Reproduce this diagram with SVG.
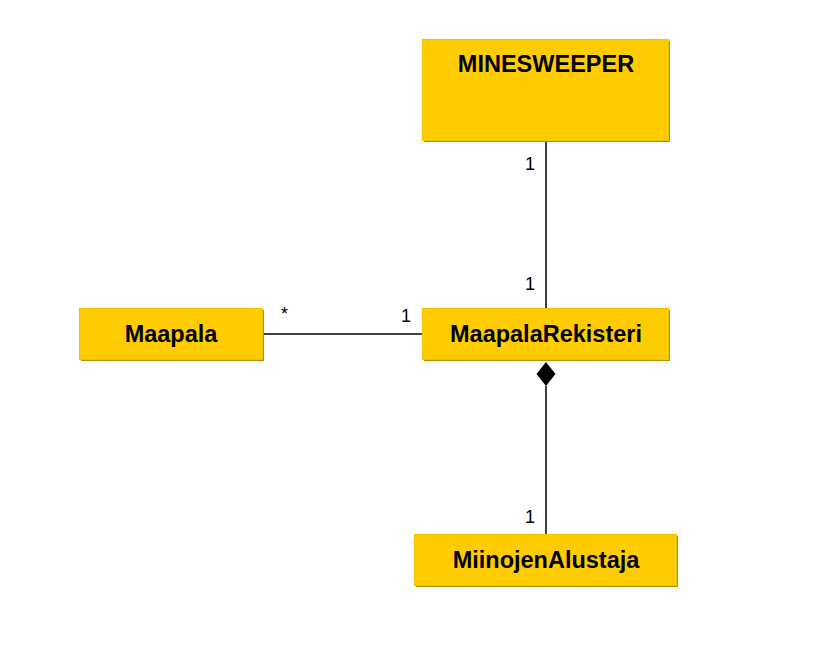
<svg xmlns="http://www.w3.org/2000/svg" width="834" height="649" viewBox="0 0 834 649">
<style>
.box{fill:#ffcc00;stroke:#f2c200;stroke-width:1}
.sh{fill:#b89200}
.t{font-family:"Liberation Sans",Arial,sans-serif;font-weight:bold;font-size:23.5px;fill:#000;text-anchor:middle}
.m{font-family:"Liberation Sans",Arial,sans-serif;font-size:18px;fill:#000}
.ln{stroke:#000;stroke-width:1.5;fill:none}
</style>
<rect width="834" height="649" fill="#fff"/>
<g id="connectors">
<line class="ln" x1="546" y1="142" x2="546" y2="309"/>
<line class="ln" x1="263" y1="334" x2="423" y2="334"/>
<line class="ln" x1="546" y1="386" x2="546" y2="535"/>
<polygon points="546,362 555.5,374 546,386 536.5,374" fill="#000"/>
<text class="m" x="525" y="170">1</text>
<text class="m" x="525" y="290">1</text>
<text class="m" x="281" y="320">*</text>
<text class="m" x="401" y="322">1</text>
<text class="m" x="525" y="523">1</text>
</g>
<g id="MINESWEEPER">
<rect class="sh" x="424" y="41" width="246" height="101"/>
<rect class="box" x="422.5" y="39.5" width="246" height="101"/>
<text class="t" x="546" y="72">MINESWEEPER</text>
</g>
<g id="Maapala">
<rect class="sh" x="81" y="310" width="183" height="51"/>
<rect class="box" x="79.5" y="308.5" width="183" height="51"/>
<text class="t" x="171" y="342">Maapala</text>
</g>
<g id="MaapalaRekisteri">
<rect class="sh" x="424" y="310" width="246" height="51"/>
<rect class="box" x="422.5" y="308.5" width="246" height="51"/>
<text class="t" x="546" y="342">MaapalaRekisteri</text>
</g>
<g id="MiinojenAlustaja">
<rect class="sh" x="416" y="536" width="262" height="51"/>
<rect class="box" x="414.5" y="534.5" width="262" height="51"/>
<text class="t" x="546" y="568">MiinojenAlustaja</text>
</g>
</svg>
